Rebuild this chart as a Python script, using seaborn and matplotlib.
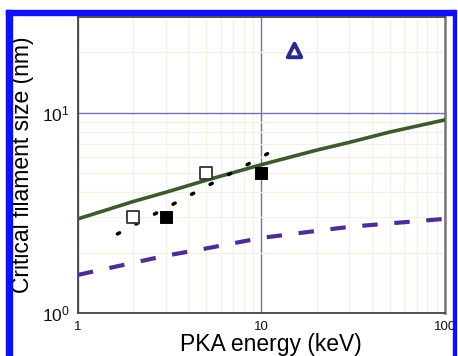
import numpy as np
import pandas as pd
import seaborn as sns
import matplotlib.pyplot as plt
from matplotlib.patches import Rectangle
from matplotlib.ticker import FixedLocator, NullFormatter

# Values
solid_energy = [1, 2, 3, 5, 10, 20, 30, 50, 100]
solid_size = [2.95, 3.6, 4.0, 4.6, 5.5, 6.5, 7.1, 8.0, 9.2]

dashed_energy = [1, 2, 3, 5, 10, 20, 30, 50, 100]
dashed_size = [1.55, 1.78, 1.93, 2.10, 2.37, 2.57, 2.69, 2.80, 2.95]

dotted_energy = [1.64, 10.8]
dotted_size = [2.48, 6.24]

open_sq_energy = [2, 5]
open_sq_size = [3.0, 5.0]
filled_sq_energy = [3, 10]
filled_sq_size = [3.0, 5.0]
tri_energy = [15]
tri_size = [20.5]

x_ticks = [1, 10, 100]
x_ticklabels = ["1", "10", "100"]
y_ticks = [1, 10]
y_ticklabels = [r"$\mathregular{10^{0}}$", r"$\mathregular{10^{1}}$"]

sns.set_style("white")
plt.rcParams["font.family"] = ["Liberation Sans", "DejaVu Sans"]

fig = plt.figure(figsize=(4.58, 3.56), dpi=100)
ax = fig.add_axes([0.1703, 0.1208, 0.8013, 0.8314])
ax.set_xscale("log")
ax.set_yscale("log")
ax.set_xlim(1, 100)
ax.set_ylim(1, 30)

# grid: faint minor lines, purple major lines
minors_x = [v * d for d in (1, 10) for v in range(2, 10)]
minors_y = [v * d for d in (1, 10) for v in range(2, 10)]
ax.xaxis.set_minor_locator(FixedLocator(minors_x))
ax.yaxis.set_minor_locator(FixedLocator(minors_y))
ax.xaxis.set_minor_formatter(NullFormatter())
ax.yaxis.set_minor_formatter(NullFormatter())
ax.grid(True, which="minor", color="#f2f2e2", lw=0.9, zorder=0)
ax.grid(True, which="major", color="#7070bb", lw=1.0, zorder=0)
ax.set_axisbelow(True)

sol = pd.DataFrame({"E": solid_energy, "s": solid_size})
das = pd.DataFrame({"E": dashed_energy, "s": dashed_size})
dot = pd.DataFrame({"E": dotted_energy, "s": dotted_size})

sns.lineplot(data=sol, x="E", y="s", ax=ax, color="#3c5a2c", lw=2.6, zorder=3)
sns.lineplot(data=das, x="E", y="s", ax=ax, color="#4e2e96", lw=3.0,
             linestyle=(0, (3.7, 4.0)), zorder=3)
sns.lineplot(data=dot, x="E", y="s", ax=ax, color="black", lw=2.5,
             linestyle=(0, (0.7, 5.35)), dash_capstyle="round", zorder=3)

sns.scatterplot(x=open_sq_energy, y=open_sq_size, ax=ax, marker="s", s=70,
                facecolor="white", edgecolor="#333333", linewidth=1.3, zorder=4)
sns.scatterplot(x=filled_sq_energy, y=filled_sq_size, ax=ax, marker="s", s=70,
                color="black", edgecolor="black", zorder=4)
sns.scatterplot(x=tri_energy, y=tri_size, ax=ax, marker="^", s=95,
                facecolor="white", edgecolor="#2a2a8e", linewidth=2.8, zorder=4)

ax.set_xticks(x_ticks)
ax.set_xticklabels(x_ticklabels)
ax.set_yticks(y_ticks)
ax.set_yticklabels(y_ticklabels)
ax.tick_params(which="major", direction="inout", length=6, width=1.1,
               colors="#333333", labelcolor="#111111")
ax.tick_params(which="minor", direction="inout", length=3.5, width=1.0,
               colors="#333333")
ax.tick_params(axis="x", which="major", pad=2.5, labelsize=9.5)
ax.tick_params(axis="y", which="major", pad=3, labelsize=12.5)
ax.tick_params(right=False, top=False, which="both")

for side in ["left", "bottom", "top"]:
    ax.spines[side].set_color("#444444")
    ax.spines[side].set_linewidth(1.3)
ax.spines["right"].set_color("#777777")
ax.spines["right"].set_linewidth(1.8)

ax.set_xlabel("PKA energy (keV)", fontsize=16.5, color="black")
ax.set_ylabel("Critical filament size (nm)", fontsize=16.5, color="black")
ax.xaxis.set_label_coords(0.526, -0.066)
ax.yaxis.set_label_coords(-0.12, 0.5)

# blue frame around the figure
W, H = 458, 356
fig.patches.extend([
    Rectangle((6 / W, 0), 5.5 / W, 346 / H, transform=fig.transFigure,
              color="#1010f0", zorder=10),
    Rectangle((6 / W, (H - 15) / H), 449 / W, 5 / H, transform=fig.transFigure,
              color="#1010f0", zorder=10),
    Rectangle((453 / W, 0), 2.5 / W, 346 / H, transform=fig.transFigure,
              color="#1010f0", zorder=10),
])

fig.savefig("out.png", dpi=100)
